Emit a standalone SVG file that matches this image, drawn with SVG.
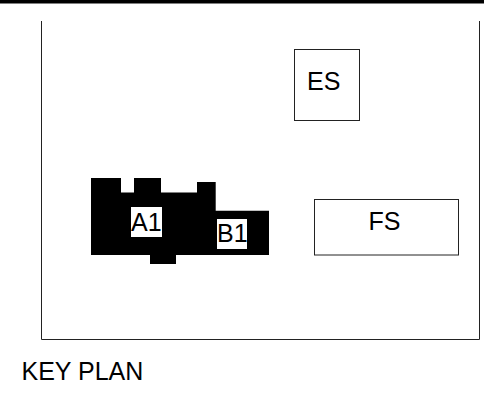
<svg xmlns="http://www.w3.org/2000/svg" width="484" height="404" viewBox="0 0 484 404">
<style>
.b{fill:#fff;stroke:#222;stroke-width:1}
.t{font-family:"Liberation Sans",Arial,sans-serif;font-size:25px;fill:#000}
</style>
<rect width="484" height="404" fill="#fff"/>
<rect x="0" y="0" width="484" height="3.5" fill="#000"/>
<path id="frame" d="M41.5 21V339.5H479.5V21" fill="none" stroke="#222" stroke-width="1"/>
<g id="ES"><rect class="b" x="294.5" y="49.5" width="65" height="71"/><text class="t" x="307" y="90">ES</text></g>
<g id="FS"><rect class="b" x="314.5" y="199.5" width="144" height="55.5"/><text class="t" x="368.5" y="230">FS</text></g>
<path id="building" d="M91 178H121V192.5H134V178H161V192.5H197V182H215.7V210.7H269V255H176V264H150V255H91Z" fill="#000"/>
<g id="A1"><rect x="131" y="207" width="31" height="30" fill="#fff"/><text class="t" x="131" y="231">A1</text></g>
<g id="B1"><rect x="217" y="219" width="30" height="30" fill="#fff"/><text class="t" x="217" y="242">B1</text></g>
<text class="t" x="21.5" y="380">KEY PLAN</text>
</svg>
